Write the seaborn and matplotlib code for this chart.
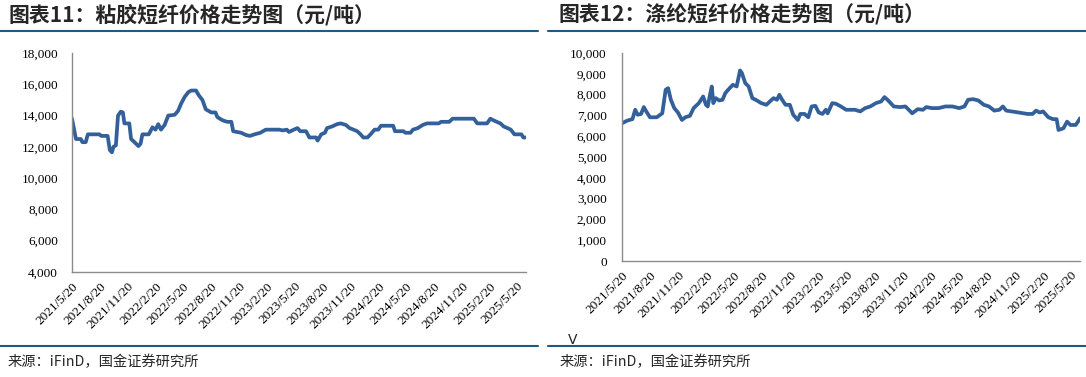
import pandas as pd
import matplotlib.pyplot as plt
import seaborn as sns
from matplotlib.lines import Line2D
from matplotlib.ticker import FuncFormatter

# 粘胶短纤价格（元/吨）
viscose_dates = [
    '2021-05-20', '2021-06-02', '2021-06-18', '2021-06-23', '2021-07-04', '2021-07-11',
    '2021-08-18', '2021-08-24', '2021-09-14', '2021-09-21', '2021-09-28', '2021-10-03',
    '2021-10-11', '2021-10-18', '2021-10-27', '2021-11-03', '2021-11-08', '2021-11-24',
    '2021-11-30', '2021-12-11', '2021-12-24', '2021-12-31', '2022-01-06', '2022-01-27',
    '2022-02-08', '2022-02-18', '2022-02-27', '2022-03-08', '2022-03-20', '2022-04-01',
    '2022-04-22', '2022-05-03', '2022-05-14', '2022-05-25', '2022-06-06', '2022-06-15',
    '2022-07-01', '2022-07-10', '2022-07-22', '2022-08-02', '2022-08-20', '2022-09-03',
    '2022-09-09', '2022-09-26', '2022-10-11', '2022-10-25', '2022-10-31', '2022-11-26',
    '2022-12-13', '2022-12-25', '2023-01-09', '2023-01-28', '2023-02-15', '2023-03-31',
    '2023-04-12', '2023-04-25', '2023-05-02', '2023-05-18', '2023-05-30', '2023-06-08',
    '2023-06-27', '2023-07-08', '2023-07-30', '2023-08-04', '2023-08-16', '2023-08-28',
    '2023-09-04', '2023-09-20', '2023-10-07', '2023-10-19', '2023-11-05', '2023-11-17',
    '2023-11-30', '2023-12-12', '2023-12-23', '2024-01-01', '2024-01-15', '2024-01-27',
    '2024-02-07', '2024-02-19', '2024-02-28', '2024-04-08', '2024-04-14', '2024-05-12',
    '2024-05-18', '2024-06-04', '2024-06-12', '2024-06-28', '2024-07-14', '2024-07-28',
    '2024-09-05', '2024-09-12', '2024-10-09', '2024-10-20', '2024-12-29', '2025-01-09',
    '2025-02-10', '2025-02-21', '2025-03-03', '2025-03-14', '2025-03-26', '2025-04-06',
    '2025-04-18', '2025-04-29', '2025-05-11', '2025-06-03', '2025-06-09', '2025-06-18',
]
viscose_price = [
    13800, 12500, 12500, 12300, 12300, 12800,
    12800, 12700, 12700, 11800, 11650, 12000,
    12100, 14000, 14250, 14200, 13500, 13500,
    12500, 12300, 12050, 12200, 12800, 12800,
    13250, 13100, 13450, 13100, 13400, 14000,
    14050, 14300, 14800, 15200, 15500, 15600,
    15600, 15300, 15000, 14400, 14200, 14200,
    13900, 13700, 13600, 13600, 13000, 12900,
    12750, 12700, 12800, 12900, 13100, 13100,
    13050, 13100, 12950, 13100, 13200, 13000,
    13000, 12600, 12600, 12400, 12800, 12900,
    13200, 13300, 13450, 13500, 13400, 13200,
    13100, 13000, 12800, 12600, 12600, 12850,
    13100, 13100, 13350, 13350, 13000, 13000,
    12900, 12900, 13100, 13200, 13400, 13500,
    13500, 13600, 13600, 13800, 13800, 13500,
    13500, 13800, 13700, 13600, 13500, 13300,
    13200, 13100, 12800, 12800, 12600, 12600,
]

# 涤纶短纤价格（元/吨）
polyester_dates = [
    '2021-05-20', '2021-06-06', '2021-06-23', '2021-07-02', '2021-07-10', '2021-07-21',
    '2021-07-30', '2021-08-07', '2021-08-19', '2021-09-10', '2021-09-28', '2021-10-09',
    '2021-10-17', '2021-10-26', '2021-11-06', '2021-11-18', '2021-12-01', '2021-12-12',
    '2021-12-27', '2022-01-08', '2022-01-25', '2022-02-08', '2022-02-17', '2022-02-23',
    '2022-02-28', '2022-03-08', '2022-03-13', '2022-03-21', '2022-04-01', '2022-04-12',
    '2022-04-21', '2022-05-05', '2022-05-16', '2022-05-28', '2022-06-08', '2022-06-14',
    '2022-06-25', '2022-07-06', '2022-07-18', '2022-07-29', '2022-08-16', '2022-09-02',
    '2022-09-13', '2022-09-25', '2022-10-06', '2022-10-14', '2022-10-23', '2022-11-03',
    '2022-11-17', '2022-11-28', '2022-12-13', '2022-12-21', '2023-01-04', '2023-01-16',
    '2023-01-27', '2023-02-08', '2023-02-19', '2023-03-03', '2023-03-14', '2023-03-20',
    '2023-04-04', '2023-04-16', '2023-05-02', '2023-05-19', '2023-06-17', '2023-07-04',
    '2023-07-20', '2023-08-06', '2023-08-24', '2023-09-10', '2023-09-21', '2023-10-03',
    '2023-10-21', '2023-11-11', '2023-11-28', '2023-12-09', '2023-12-20', '2024-01-07',
    '2024-01-24', '2024-02-04', '2024-02-22', '2024-03-15', '2024-04-06', '2024-04-29',
    '2024-05-21', '2024-06-07', '2024-06-19', '2024-07-05', '2024-07-22', '2024-08-09',
    '2024-08-26', '2024-09-12', '2024-09-29', '2024-10-10', '2024-10-21', '2024-11-08',
    '2024-11-30', '2024-12-29', '2025-01-15', '2025-01-26', '2025-02-07', '2025-02-18',
    '2025-03-07', '2025-03-22', '2025-04-03', '2025-04-09', '2025-04-25', '2025-05-07',
    '2025-05-18', '2025-06-04', '2025-06-15', '2025-06-18',
]
polyester_price = [
    6620, 6750, 6820, 7270, 7030, 7070,
    7400, 7190, 6910, 6910, 7100, 8230,
    8310, 7750, 7350, 7140, 6780, 6910,
    6980, 7350, 7590, 7910, 7510, 7430,
    7830, 8390, 7590, 7830, 7720, 7750,
    8070, 8310, 8470, 8390, 9160, 9040,
    8550, 8390, 7830, 7750, 7590, 7510,
    7670, 7830, 7750, 7990, 7750, 7510,
    7510, 7030, 6780, 7070, 7070, 6910,
    7430, 7460, 7140, 7070, 7270, 7100,
    7590, 7560, 7430, 7270, 7270, 7190,
    7350, 7430, 7590, 7670, 7880, 7720,
    7430, 7400, 7430, 7270, 7100, 7300,
    7270, 7400, 7350, 7350, 7430, 7430,
    7350, 7430, 7750, 7780, 7720, 7510,
    7430, 7230, 7270, 7430, 7230, 7190,
    7140, 7070, 7070, 7230, 7140, 7190,
    6910, 6820, 6820, 6300, 6380, 6700,
    6540, 6540, 6780, 6860,
]

tick_labels = [
    '2021/5/20', '2021/8/20', '2021/11/20', '2022/2/20', '2022/5/20', '2022/8/20',
    '2022/11/20', '2023/2/20', '2023/5/20', '2023/8/20', '2023/11/20', '2024/2/20',
    '2024/5/20', '2024/8/20', '2024/11/20', '2025/2/20', '2025/5/20',
]

LINE = '#33609A'
RULE = '#1F5A85'
W, H = 1086, 377

sns.set_style('white')
plt.rcParams['font.family'] = ['Liberation Serif', 'Noto Sans CJK SC', 'DejaVu Sans']
plt.rcParams['axes.unicode_minus'] = False

tick_dates = pd.to_datetime(tick_labels, format='%Y/%m/%d')

fig = plt.figure(figsize=(W / 100, H / 100), dpi=100)


def px_axes(x0, y0, x1, y1):
    return fig.add_axes([x0 / W, 1 - y1 / H, (x1 - x0) / W, (y1 - y0) / H])


def draw(ax, dates, prices, ymin, ymax, step, ypad):
    df = pd.DataFrame({'date': pd.to_datetime(dates), 'price': prices})
    sns.lineplot(data=df, x='date', y='price', ax=ax, color=LINE, lw=2.7)
    ax.set_xlim(tick_dates[0], df['date'].iloc[-1])
    ax.set_ylim(ymin, ymax)
    ax.set_yticks(range(ymin, ymax + 1, step))
    ax.yaxis.set_major_formatter(FuncFormatter(lambda v, p: f'{v:,.0f}'))
    ax.set_xticks(tick_dates)
    ax.set_xticklabels(tick_labels, rotation=45, ha='right', rotation_mode='anchor')
    ax.set_xlabel('')
    ax.set_ylabel('')
    for s in ['top', 'right']:
        ax.spines[s].set_visible(False)
    for s in ['left', 'bottom']:
        ax.spines[s].set_color('#8c8c8c')
        ax.spines[s].set_linewidth(1)
    ax.tick_params(axis='both', direction='in', length=3, width=1, color='#8c8c8c',
                   labelsize=9.5, labelcolor='black')
    ax.tick_params(axis='y', pad=ypad)
    ax.tick_params(axis='x', pad=6)


ax1 = px_axes(72, 53, 526, 272)
draw(ax1, viscose_dates, viscose_price, 4000, 18000, 2000, 10)
ax2 = px_axes(622, 53, 1080, 261)
draw(ax2, polyester_dates, polyester_price, 0, 10000, 1000, 11)

cjk = ['Noto Sans CJK SC', 'DejaVu Sans']
fig.text(8 / W, 1 - 15 / H, '图表11：粘胶短纤价格走势图（元/吨）', fontsize=15,
         fontweight='bold', family=cjk, va='center', ha='left')
fig.text(558 / W, 1 - 15 / H, '图表12：涤纶短纤价格走势图（元/吨）', fontsize=15,
         fontweight='bold', family=cjk, va='center', ha='left')

for y in [31, 346]:
    fig.add_artist(Line2D([0, 538 / W], [1 - y / H] * 2, color=RULE, lw=1.5,
                          transform=fig.transFigure))
    fig.add_artist(Line2D([548 / W, 1], [1 - y / H] * 2, color=RULE, lw=1.5,
                          transform=fig.transFigure))

fig.text(8 / W, 1 - 362 / H, '来源：iFinD，国金证券研究所', fontsize=10.3,
         family=cjk, va='center', ha='left')
fig.text(560 / W, 1 - 362 / H, '来源：iFinD，国金证券研究所', fontsize=10.3,
         family=cjk, va='center', ha='left')
fig.text(568 / W, 1 - 340 / H, 'V', fontsize=10, family=['DejaVu Sans'],
         va='center', ha='left')

fig.savefig('out.png', dpi=100)
